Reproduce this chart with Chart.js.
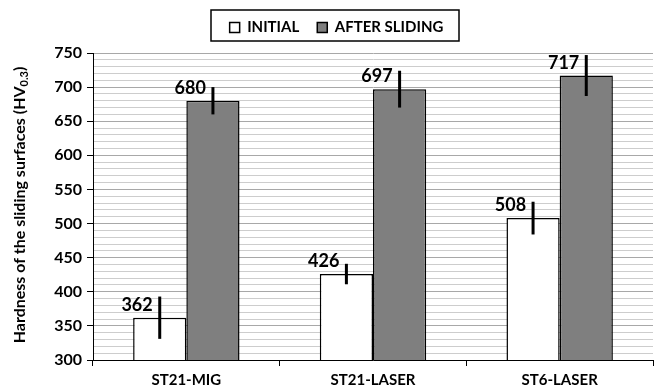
<!DOCTYPE html>
<html>
<head>
<meta charset="utf-8">
<script src="https://cdn.jsdelivr.net/npm/chart.js@4"></script>
<style>
  body { margin: 0; background: #fff; }
  #wrap { width: 660px; height: 389px; }
</style>
</head>
<body>
<div id="wrap"><canvas id="grafico"></canvas></div>
<script>
// datos
const categorias = ['ST21-MIG', 'ST21-LASER', 'ST6-LASER'];
const inicial = [362, 426, 508];
const inicialErr = [31, 15, 24];
const despues = [680, 697, 717];
const despuesErr = [20, 27, 30];
const ticksY = [300, 350, 400, 450, 500, 550, 600, 650, 700, 750];

const fuente = 'Lato, "Open Sans", sans-serif';

// barras de error y etiquetas de valor
const errorBars = {
    id: 'errorBars',
    afterDatasetsDraw(chart) {
        const ctx = chart.ctx;
        const y = chart.scales.y;
        const errores = [inicialErr, despuesErr];
        chart.data.datasets.forEach((ds, i) => {
            const meta = chart.getDatasetMeta(i);
            meta.data.forEach((bar, j) => {
                const v = ds.data[j];
                const e = errores[i][j];
                ctx.save();
                ctx.strokeStyle = '#000';
                ctx.lineWidth = 3;
                ctx.beginPath();
                ctx.moveTo(bar.x, y.getPixelForValue(v + e));
                ctx.lineTo(bar.x, y.getPixelForValue(v - e));
                ctx.stroke();
                ctx.fillStyle = '#000';
                ctx.font = 'bold 18px ' + fuente;
                ctx.textAlign = 'right';
                ctx.textBaseline = 'alphabetic';
                ctx.fillText(String(v), bar.x - 7, bar.y - 7);
                ctx.restore();
            });
        });
    }
};

// titulo del eje y con subindice
const tituloY = {
    id: 'tituloY',
    afterDraw(chart) {
        const ctx = chart.ctx;
        ctx.save();
        ctx.translate(20, 205);
        ctx.rotate(-Math.PI / 2);
        ctx.fillStyle = '#000';
        ctx.textBaseline = 'middle';
        const t1 = 'Hardness of the sliding surfaces (HV';
        const t2 = '0.3';
        const t3 = ')';
        ctx.font = 'bold 16px ' + fuente;
        const w1 = ctx.measureText(t1).width;
        const w3 = ctx.measureText(t3).width;
        ctx.font = 'bold 11px ' + fuente;
        const w2 = ctx.measureText(t2).width;
        let x = -(w1 + w2 + w3) / 2;
        ctx.textAlign = 'left';
        ctx.font = 'bold 16px ' + fuente;
        ctx.fillText(t1, x, 0);
        x += w1;
        ctx.font = 'bold 11px ' + fuente;
        ctx.fillText(t2, x, 4);
        x += w2;
        ctx.font = 'bold 16px ' + fuente;
        ctx.fillText(t3, x, 0);
        ctx.restore();
    }
};

// recuadro de la leyenda, espacio debajo y desplazamiento
const marcoLeyenda = {
    id: 'marcoLeyenda',
    beforeLayout(chart) {
        const lg = chart.legend;
        if (lg && !lg._parcheado) {
            const fitOrig = lg.fit;
            lg.fit = function () {
                fitOrig.call(this);
                this.height += 7;
            };
            const drawOrig = lg.draw;
            lg.draw = function (area) {
                this.ctx.save();
                this.ctx.translate(10, -1);
                drawOrig.call(this, area);
                this.ctx.restore();
            };
            lg._parcheado = true;
        }
    },
    afterDraw(chart) {
        const ctx = chart.ctx;
        ctx.save();
        ctx.strokeStyle = '#000';
        ctx.lineWidth = 1.5;
        ctx.strokeRect(211, 10, 248, 31);
        ctx.restore();
    }
};

const data = {
    labels: categorias,
    datasets: [{
        label: 'INITIAL',
        data: inicial,
        backgroundColor: '#ffffff',
        borderColor: '#000000',
        borderWidth: 1.5
    }, {
        label: 'AFTER SLIDING',
        data: despues,
        backgroundColor: '#7f7f7f',
        borderColor: '#000000',
        borderWidth: 1.5
    }]
};

const options = {
    responsive: true,
    maintainAspectRatio: false,
    animation: false,
    layout: { padding: { left: 0, right: 7, top: 3, bottom: 0 } },
    datasets: {
        bar: { categoryPercentage: 0.57, barPercentage: 1.0 }
    },
    plugins: {
        legend: {
            position: 'top',
            labels: {
                color: '#000',
                font: { family: fuente, size: 15, weight: 'bold' },
                boxWidth: 10,
                boxHeight: 10,
                padding: 18
            }
        },
        tooltip: { enabled: false }
    },
    scales: {
        x: {
            afterFit: scale => { scale.height = 29; },
            grid: {
                offset: true,
                drawOnChartArea: false,
                tickLength: 6,
                color: '#000'
            },
            border: { color: '#000', width: 1 },
            ticks: {
                color: '#000',
                font: { family: fuente, size: 15, weight: 'bold' },
                padding: 5
            }
        },
        y: {
            min: 300,
            max: 750,
            afterFit: scale => { scale.width = 93; },
            afterBuildTicks: scale => {
                let t = [];
                for (let v = ticksY[0]; v <= ticksY[ticksY.length - 1]; v += 10) t.push({ value: v });
                scale.ticks = t;
            },
            border: { color: '#000', width: 1 },
            grid: {
                color: c => (c.tick && c.tick.value % 50 === 0) ? '#a8a8a8' : '#cdcdcd',
                tickColor: c => (c.tick && c.tick.value % 50 === 0) ? '#000' : 'rgba(0,0,0,0)',
                tickLength: 6
            },
            ticks: {
                autoSkip: false,
                color: '#000',
                font: { family: fuente, size: 16, weight: 'bold' },
                padding: 5,
                callback: v => ticksY.includes(v) ? String(v) : ''
            }
        }
    }
};

var ctx = document.getElementById('grafico').getContext('2d');
var miGrafico = new Chart(ctx, {
    type: 'bar',
    data: data,
    options: options,
    plugins: [errorBars, tituloY, marcoLeyenda]
});
</script>
</body>
</html>
